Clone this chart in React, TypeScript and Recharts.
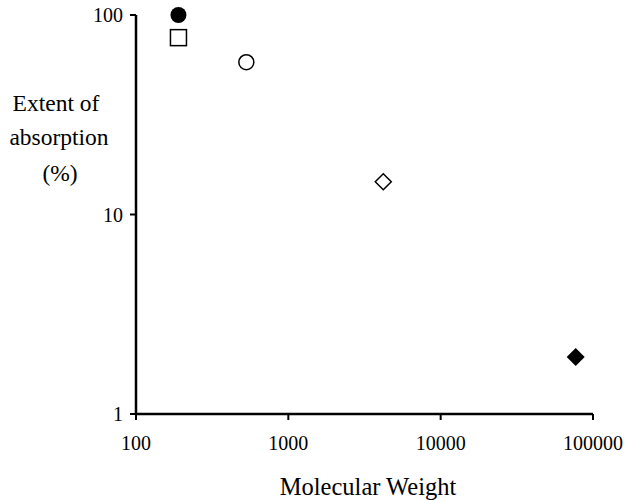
import React from "react";
import { ScatterChart, Scatter, XAxis, YAxis } from "recharts";

const molecularWeight = [190, 190, 530, 4200, 77000];
const absorptionPct = [100, 77, 58, 14.6, 1.93];
const markerKinds = ["filledCircle", "openSquare", "openCircle", "openDiamond", "filledDiamond"];

const xTicks = [100, 1000, 10000, 100000];
const yTicks = [1, 10, 100];

const FONT = "Liberation Serif";

const drawMarker = (kind: string) => (props: any) => {
  const { cx, cy } = props;
  if (cx == null || cy == null) return <g />;
  switch (kind) {
    case "filledCircle":
      return <circle cx={cx} cy={cy} r={8} fill="#000" />;
    case "openCircle":
      return <circle cx={cx} cy={cy} r={7.5} fill="#fff" stroke="#000" strokeWidth={1.5} />;
    case "openSquare":
      return <rect x={cx - 8} y={cy - 8} width={16} height={16} fill="#fff" stroke="#000" strokeWidth={1.5} />;
    case "openDiamond":
      return (
        <polygon
          points={`${cx},${cy - 8} ${cx + 8},${cy} ${cx},${cy + 8} ${cx - 8},${cy}`}
          fill="#fff"
          stroke="#000"
          strokeWidth={1.5}
        />
      );
    default:
      return <polygon points={`${cx},${cy - 9} ${cx + 9},${cy} ${cx},${cy + 9} ${cx - 9},${cy}`} fill="#000" />;
  }
};

const YTitle = () => (
  <text fontFamily={FONT} fontSize={23.5} fill="#000" textAnchor="middle">
    <tspan x={56} y={111}>Extent of</tspan>
    <tspan x={59} y={145}>absorption</tspan>
    <tspan x={60} y={181}>(%)</tspan>
  </text>
);

const XTitle = () => (
  <text x={368} y={495} fontFamily={FONT} fontSize={24.5} fill="#000" textAnchor="middle">
    Molecular Weight
  </text>
);

export default function App() {
  return (
    <div style={{ position: "absolute", left: 0, top: 0, background: "#fff" }}>
      <ScatterChart width={629} height={500} margin={{ top: 15, right: 36, bottom: 0, left: 0 }}>
        <XAxis
          type="number"
          dataKey="x"
          scale="log"
          domain={[100, 100000]}
          ticks={xTicks}
          height={86}
          axisLine={{ stroke: "#000", strokeWidth: 2.5 }}
          tickLine={{ stroke: "#000", strokeWidth: 2 }}
          tickSize={6}
          tickMargin={16}
          tick={{ fill: "#000", fontSize: 20, fontFamily: FONT }}
          label={<XTitle />}
        />
        <YAxis
          type="number"
          dataKey="y"
          scale="log"
          domain={[1, 100]}
          ticks={yTicks}
          width={136}
          axisLine={{ stroke: "#000", strokeWidth: 2.5 }}
          tickLine={{ stroke: "#000", strokeWidth: 2 }}
          tickSize={6}
          tickMargin={7}
          tick={{ fill: "#000", fontSize: 20, fontFamily: FONT }}
          label={<YTitle />}
        />
        {markerKinds.map((kind, i) => (
          <Scatter
            key={kind}
            data={[{ x: molecularWeight[i], y: absorptionPct[i] }]}
            shape={drawMarker(kind)}
            isAnimationActive={false}
          />
        ))}
      </ScatterChart>
    </div>
  );
}
